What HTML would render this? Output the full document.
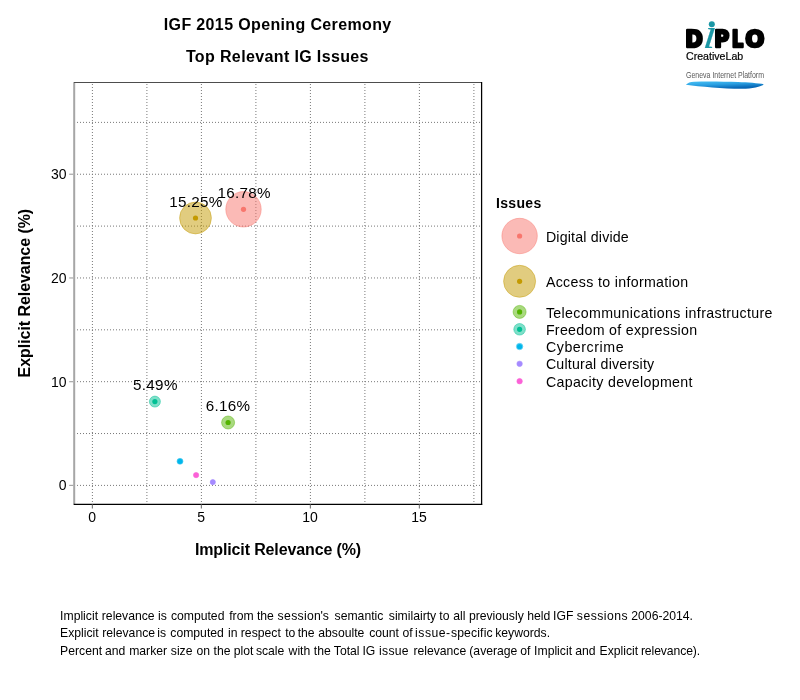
<!DOCTYPE html>
<html lang="en"><head><meta charset="utf-8"><title>IGF 2015 Opening Ceremony</title>
<style>
html,body{margin:0;padding:0;background:#fff;}
body{width:800px;height:700px;overflow:hidden;}
svg{display:block;}
text{font-family:"Liberation Sans",sans-serif;fill:#000;}
.b{font-weight:bold;}
.grid line{stroke:#787878;stroke-width:1;stroke-dasharray:1 2;}
.dp{font-family:"DejaVu Sans","Liberation Sans",sans-serif;font-weight:bold;stroke:#000;stroke-linejoin:round;}
.di{font-family:"Liberation Serif",serif;font-style:italic;font-weight:normal;fill:#1b97a5;}
</style></head><body>
<svg width="800" height="700" viewBox="0 0 800 700">
<rect width="800" height="700" fill="#fff"/>

<g class="grid">
<line x1="92.4" y1="84" x2="92.4" y2="504"/>
<line x1="146.9" y1="84" x2="146.9" y2="504"/>
<line x1="201.4" y1="84" x2="201.4" y2="504"/>
<line x1="255.9" y1="84" x2="255.9" y2="504"/>
<line x1="310.4" y1="84" x2="310.4" y2="504"/>
<line x1="364.9" y1="84" x2="364.9" y2="504"/>
<line x1="419.4" y1="84" x2="419.4" y2="504"/>
<line x1="473.9" y1="84" x2="473.9" y2="504"/>
<line x1="77" y1="485.4" x2="481" y2="485.4"/>
<line x1="77" y1="433.54" x2="481" y2="433.54"/>
<line x1="77" y1="381.68" x2="481" y2="381.68"/>
<line x1="77" y1="329.82" x2="481" y2="329.82"/>
<line x1="77" y1="277.96" x2="481" y2="277.96"/>
<line x1="77" y1="226.1" x2="481" y2="226.1"/>
<line x1="77" y1="174.24" x2="481" y2="174.24"/>
<line x1="77" y1="122.38" x2="481" y2="122.38"/>
</g>
<circle cx="243.5" cy="209.3" r="17.70" fill="#F8766D" fill-opacity="0.5" stroke="#F8766D" stroke-opacity="0.45" stroke-width="1"/>
<circle cx="243.5" cy="209.3" r="2.6" fill="#F8766D"/>
<circle cx="195.5" cy="218" r="15.90" fill="#C49A00" fill-opacity="0.5" stroke="#C49A00" stroke-opacity="0.45" stroke-width="1"/>
<circle cx="195.5" cy="218" r="2.6" fill="#C49A00"/>
<circle cx="228.1" cy="422.5" r="6.50" fill="#53B400" fill-opacity="0.5" stroke="#53B400" stroke-opacity="0.45" stroke-width="1"/>
<circle cx="228.1" cy="422.5" r="2.6" fill="#53B400"/>
<circle cx="154.9" cy="401.6" r="5.50" fill="#00C094" fill-opacity="0.5" stroke="#00C094" stroke-opacity="0.45" stroke-width="1"/>
<circle cx="154.9" cy="401.6" r="2.6" fill="#00C094"/>
<circle cx="180" cy="461.3" r="3.00" fill="#00B6EB" fill-opacity="0.5" stroke="#00B6EB" stroke-opacity="0.45" stroke-width="1"/>
<circle cx="180" cy="461.3" r="2.6" fill="#00B6EB"/>
<circle cx="212.8" cy="482.1" r="2.60" fill="#A58AFF" fill-opacity="0.5" stroke="#A58AFF" stroke-opacity="0.45" stroke-width="1"/>
<circle cx="212.8" cy="482.1" r="2.6" fill="#A58AFF"/>
<circle cx="196.1" cy="475.1" r="2.70" fill="#FB61D7" fill-opacity="0.5" stroke="#FB61D7" stroke-opacity="0.45" stroke-width="1"/>
<circle cx="196.1" cy="475.1" r="2.6" fill="#FB61D7"/>
<line x1="74.2" y1="82.5" x2="74.2" y2="504.4" stroke="#a6a6a6" stroke-width="2"/>
<line x1="73.8" y1="82.5" x2="481.6" y2="82.5" stroke="#4d4d4d" stroke-width="1.2"/>
<line x1="481.6" y1="82.0" x2="481.6" y2="505.0" stroke="#000" stroke-width="1.25"/>
<line x1="73.7" y1="504.4" x2="482.20000000000005" y2="504.4" stroke="#000" stroke-width="1.25"/>
<line x1="69.2" y1="485.4" x2="73.2" y2="485.4" stroke="#a6a6a6" stroke-width="1.2"/>
<text x="66.6" y="490.3" font-size="14" text-anchor="end">0</text>
<line x1="69.2" y1="381.67999999999995" x2="73.2" y2="381.67999999999995" stroke="#a6a6a6" stroke-width="1.2"/>
<text x="66.6" y="386.6" font-size="14" text-anchor="end">10</text>
<line x1="69.2" y1="277.96" x2="73.2" y2="277.96" stroke="#a6a6a6" stroke-width="1.2"/>
<text x="66.6" y="282.9" font-size="14" text-anchor="end">20</text>
<line x1="69.2" y1="174.24" x2="73.2" y2="174.24" stroke="#a6a6a6" stroke-width="1.2"/>
<text x="66.6" y="179.1" font-size="14" text-anchor="end">30</text>
<line x1="92.4" y1="504.4" x2="92.4" y2="508.4" stroke="#7f7f7f" stroke-width="1.2"/>
<text x="92.1" y="521.6" font-size="14" text-anchor="middle">0</text>
<line x1="201.4" y1="504.4" x2="201.4" y2="508.4" stroke="#7f7f7f" stroke-width="1.2"/>
<text x="201.1" y="521.6" font-size="14" text-anchor="middle">5</text>
<line x1="310.4" y1="504.4" x2="310.4" y2="508.4" stroke="#7f7f7f" stroke-width="1.2"/>
<text x="310.1" y="521.6" font-size="14" text-anchor="middle">10</text>
<line x1="419.4" y1="504.4" x2="419.4" y2="508.4" stroke="#7f7f7f" stroke-width="1.2"/>
<text x="419.1" y="521.6" font-size="14" text-anchor="middle">15</text>
<text x="244.0" y="197.7" font-size="15.2" text-anchor="middle" textLength="53.0">16.78%</text>
<text x="195.7" y="206.7" font-size="15.2" text-anchor="middle" textLength="53.0">15.25%</text>
<text x="155.2" y="389.5" font-size="15.2" text-anchor="middle" textLength="44.4">5.49%</text>
<text x="227.9" y="410.5" font-size="15.2" text-anchor="middle" textLength="44.4">6.16%</text>
<text class="b" x="277.5" y="29.8" font-size="16" text-anchor="middle" textLength="227.4">IGF 2015 Opening Ceremony</text>
<text class="b" x="277.2" y="61.7" font-size="16" text-anchor="middle" textLength="182.6">Top Relevant IG Issues</text>
<text class="b" x="278" y="554.5" font-size="16" text-anchor="middle" textLength="166.2">Implicit Relevance (%)</text>
<text class="b" transform="translate(30,293.1) rotate(-90)" font-size="16" text-anchor="middle" textLength="168.6">Explicit Relevance (%)</text>
<text class="b" x="496" y="208" font-size="14" textLength="45.3">Issues</text>
<circle cx="519.6" cy="236" r="17.70" fill="#F8766D" fill-opacity="0.5" stroke="#F8766D" stroke-opacity="0.45" stroke-width="1"/>
<circle cx="519.6" cy="236" r="2.6" fill="#F8766D"/>
<text x="545.9" y="241.6" font-size="14.2" textLength="82.8">Digital divide</text>
<circle cx="519.6" cy="281.3" r="16.00" fill="#C49A00" fill-opacity="0.5" stroke="#C49A00" stroke-opacity="0.45" stroke-width="1"/>
<circle cx="519.6" cy="281.3" r="2.6" fill="#C49A00"/>
<text x="545.9" y="286.9" font-size="14.2" textLength="142.3">Access to information</text>
<circle cx="519.6" cy="311.9" r="6.50" fill="#53B400" fill-opacity="0.5" stroke="#53B400" stroke-opacity="0.45" stroke-width="1"/>
<circle cx="519.6" cy="311.9" r="2.6" fill="#53B400"/>
<text x="545.9" y="317.5" font-size="14.2" textLength="226.6">Telecommunications infrastructure</text>
<circle cx="519.6" cy="329.3" r="5.80" fill="#00C094" fill-opacity="0.5" stroke="#00C094" stroke-opacity="0.45" stroke-width="1"/>
<circle cx="519.6" cy="329.3" r="2.6" fill="#00C094"/>
<text x="545.9" y="334.9" font-size="14.2" textLength="151.2">Freedom of expression</text>
<circle cx="519.6" cy="346.5" r="3.20" fill="#00B6EB" fill-opacity="0.5" stroke="#00B6EB" stroke-opacity="0.45" stroke-width="1"/>
<circle cx="519.6" cy="346.5" r="2.6" fill="#00B6EB"/>
<text x="545.9" y="352.1" font-size="14.2" textLength="77.7">Cybercrime</text>
<circle cx="519.6" cy="363.8" r="2.80" fill="#A58AFF" fill-opacity="0.5" stroke="#A58AFF" stroke-opacity="0.45" stroke-width="1"/>
<circle cx="519.6" cy="363.8" r="2.6" fill="#A58AFF"/>
<text x="545.9" y="369.4" font-size="14.2" textLength="108.3">Cultural diversity</text>
<circle cx="519.6" cy="381.2" r="2.80" fill="#FB61D7" fill-opacity="0.5" stroke="#FB61D7" stroke-opacity="0.45" stroke-width="1"/>
<circle cx="519.6" cy="381.2" r="2.6" fill="#FB61D7"/>
<text x="545.9" y="386.8" font-size="14.2" textLength="146.5">Capacity development</text>
<text y="620" font-size="12.2" xml:space="preserve"><tspan x="60.1">Implicit </tspan><tspan x="101.8">relevance </tspan><tspan x="158.1">is </tspan><tspan x="170.9">computed </tspan><tspan x="229.2">from </tspan><tspan x="256.9">the </tspan><tspan x="277.6" letter-spacing="0.33">session</tspan><tspan x="320.4">&#39;s </tspan><tspan x="334.6">semantic </tspan><tspan x="388.8">similairty </tspan><tspan x="439.3">to </tspan><tspan x="453.3">all </tspan><tspan x="468.9">previously </tspan><tspan x="527.2">held </tspan><tspan x="553.1">IGF </tspan><tspan x="576.8" letter-spacing="0.5">sessions </tspan><tspan x="631.3">2006-2014.</tspan></text>
<text y="637.2" font-size="12.2" xml:space="preserve"><tspan x="60.1">Explicit </tspan><tspan x="102.2">relevance </tspan><tspan x="157.2">is </tspan><tspan x="170.3">computed </tspan><tspan x="228.1">in </tspan><tspan x="240.8">respect </tspan><tspan x="285.2">to </tspan><tspan x="297.7">the </tspan><tspan x="318.3">absoulte </tspan><tspan x="369.2">count </tspan><tspan x="402.4">of </tspan><tspan x="415.1" letter-spacing="0.5">issue-</tspan><tspan x="450.9" letter-spacing="0.15">specific </tspan><tspan x="495.2">keywords.</tspan></text>
<text y="654.5" font-size="12.2" xml:space="preserve"><tspan x="60.1">Percent </tspan><tspan x="105.0">and </tspan><tspan x="129.2">marker </tspan><tspan x="170.8">size </tspan><tspan x="196.6">on </tspan><tspan x="213.6">the </tspan><tspan x="233.7">plot </tspan><tspan x="255.9">scale </tspan><tspan x="288.6">with </tspan><tspan x="313.8">the </tspan><tspan x="333.8">Total </tspan><tspan x="362.4">IG </tspan><tspan x="379.0" letter-spacing="0.3">issue </tspan><tspan x="413.4">relevance </tspan><tspan x="469.3">(average </tspan><tspan x="520.3">of </tspan><tspan x="534.1">Implicit </tspan><tspan x="575.3">and </tspan><tspan x="599.6">Explicit </tspan><tspan x="640.9" letter-spacing="-0.1">relevance).</tspan></text>
<defs><linearGradient id="sw" gradientUnits="userSpaceOnUse" x1="700" y1="81" x2="700.45" y2="89.6"><stop offset="0" stop-color="#48c0f4"/><stop offset="0.5" stop-color="#2aa0e2"/><stop offset="1" stop-color="#0868b6"/></linearGradient></defs>
<g id="logo">
<text class="dp" transform="translate(685.20,46.7) scale(0.920,1)" font-size="23.0" stroke-width="2.6">D</text>
<clipPath id="ic"><rect x="698" y="27" width="20" height="24"/></clipPath>
<g clip-path="url(#ic)"><text class="di" transform="translate(702.4,47.8) skewX(-8)" font-size="43.5" stroke="#1b97a5" stroke-width="0.2">i</text></g>
<circle cx="711.8" cy="24.2" r="3" fill="#1b97a5"/>

<text class="dp" transform="translate(714.35,46.7) scale(0.891,1)" font-size="23.0" stroke-width="2.6">P</text>
<text class="dp" transform="translate(731.67,46.7) scale(0.786,1)" font-size="23.0" stroke-width="2.6">L</text>
<text class="dp" transform="translate(745.37,46.7) scale(0.980,1)" font-size="23.0" stroke-width="2.6">O</text>
<text x="686" y="59.6" font-size="10.6" textLength="57.2" stroke="#000" stroke-width="0.2">CreativeLab</text>
<text x="686" y="77.6" font-size="9.5" textLength="78" lengthAdjust="spacingAndGlyphs" style="fill:#5a5a5a">Geneva Internet Platform</text>
<path d="M686.1,84.5 C688,83 690,82 694,81.8 C708,81.3 725,81.7 738,82.1 C748,82.5 758,83.3 764,84.2 C761,86.6 752,88.7 742,88.8 C725,88.9 700,86.6 686.1,84.7 Z" fill="url(#sw)"/>
</g>

</svg></body></html>
